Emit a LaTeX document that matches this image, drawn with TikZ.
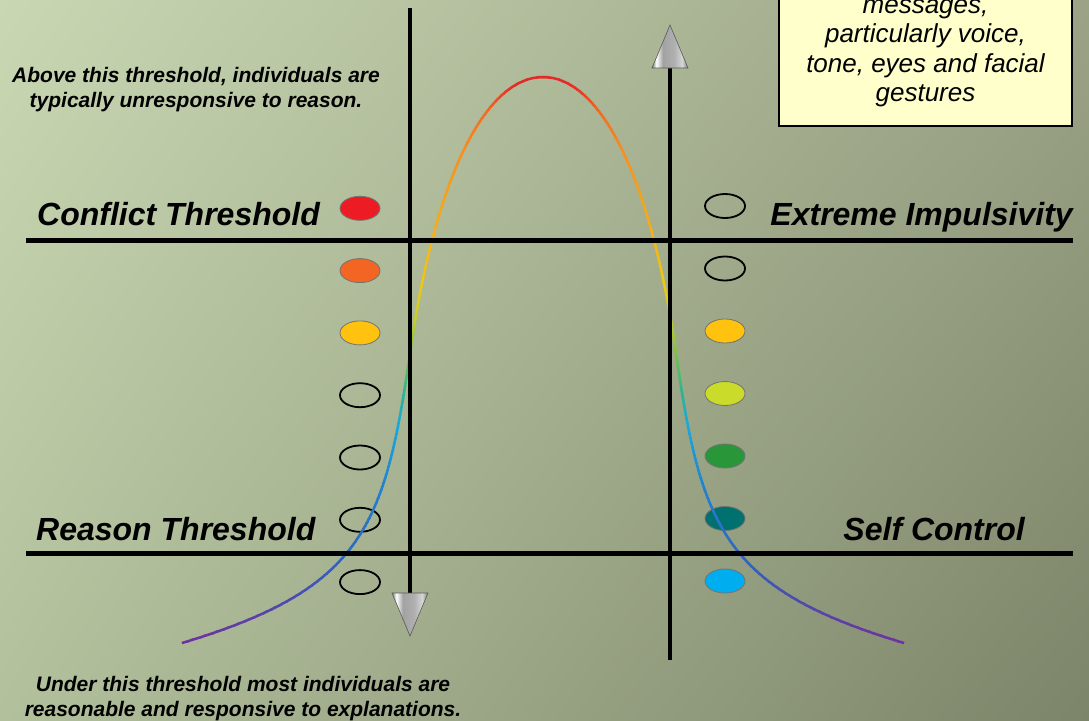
\documentclass[tikz,border=0pt]{standalone}
\usepackage{fontspec}
\setmainfont{Liberation Sans}
\usetikzlibrary{shapes.geometric,calc,shadings}
\definecolor{bgtl}{HTML}{C9D7B3}
\definecolor{bgtr}{HTML}{9AA385}
\definecolor{bgbl}{HTML}{B2C09C}
\definecolor{bgbr}{HTML}{7C8469}
\definecolor{noteyellow}{HTML}{FFFFCC}
\definecolor{lampred}{HTML}{ED1C24}
\definecolor{lamporange}{HTML}{F26522}
\definecolor{lampyellow}{HTML}{FFC20E}
\definecolor{lamplime}{HTML}{CBDB2A}
\definecolor{lampgreen}{HTML}{2A963A}
\definecolor{lampteal}{HTML}{00716F}
\definecolor{lampcyan}{HTML}{00AEEF}
\definecolor{bellred}{HTML}{E42A28}
\definecolor{bellember}{HTML}{F06A24}
\definecolor{bellorange}{HTML}{F58F22}
\definecolor{bellamber}{HTML}{F3B41A}
\definecolor{bellyellow}{HTML}{EBC818}
\definecolor{belllime}{HTML}{C4CE2C}
\definecolor{bellgreen}{HTML}{7CC143}
\definecolor{bellteal}{HTML}{2EB58C}
\definecolor{bellcyan}{HTML}{1BA7DA}
\definecolor{bellsky}{HTML}{2280CC}
\definecolor{bellblue}{HTML}{3065BE}
\definecolor{bellviolet}{HTML}{5446A8}
\definecolor{bellpurple}{HTML}{7030A0}
\definecolor{conedark}{HTML}{7A7A7A}
\definecolor{conemid}{HTML}{A2A2A2}
\definecolor{conelight}{HTML}{D6D6D6}
\pgfdeclarehorizontalshading{conegray}{100bp}{color(0bp)=(conedark); color(25bp)=(conedark); color(31bp)=(white); color(40bp)=(conemid); color(56bp)=(conemid!85!white); color(67bp)=(conelight); color(75bp)=(conedark); color(100bp)=(conedark)}
% colour of the bell curve, picked by height
\newcommand\bellmix[4]{\pgfmathtruncatemacro\bellpct{max(0,min(100,(\belly-#3)/(#4-#3)*100))}\colorlet{bellseg}{#2!\bellpct!#1}}
\newcommand\bellcolour[1]{%
  \pgfmathsetmacro\belly{#1}%
  \ifdim\belly pt<110pt\bellmix{bellred}{bellember}{85}{110}%
  \else\ifdim\belly pt<150pt\bellmix{bellember}{bellorange}{110}{150}%
  \else\ifdim\belly pt<240pt\bellmix{bellorange}{bellamber}{150}{240}%
  \else\ifdim\belly pt<285pt\bellmix{bellamber}{bellyellow}{240}{285}%
  \else\ifdim\belly pt<320pt\bellmix{bellyellow}{belllime}{285}{320}%
  \else\ifdim\belly pt<353pt\bellmix{belllime}{bellgreen}{320}{353}%
  \else\ifdim\belly pt<390pt\bellmix{bellgreen}{bellteal}{353}{390}%
  \else\ifdim\belly pt<425pt\bellmix{bellteal}{bellcyan}{390}{425}%
  \else\ifdim\belly pt<490pt\bellmix{bellcyan}{bellsky}{425}{490}%
  \else\ifdim\belly pt<560pt\bellmix{bellsky}{bellblue}{490}{560}%
  \else\ifdim\belly pt<610pt\bellmix{bellblue}{bellviolet}{560}{610}%
  \else\bellmix{bellviolet}{bellpurple}{610}{645}%
  \fi\fi\fi\fi\fi\fi\fi\fi\fi\fi\fi}

\begin{document}
\begin{tikzpicture}[x=1pt,y=-1pt]
    \tikzstyle{tag}=[inner sep=0pt,font=\fontsize{32}{38}\selectfont\bfseries\itshape]
    \tikzstyle{remark}=[inner sep=0pt,align=center,font=\fontsize{21}{25.5}\selectfont\bfseries\itshape]
    \tikzstyle{lamp}=[ellipse,minimum width=40pt,minimum height=24pt,inner sep=0pt]
    \tikzstyle{lit}=[lamp,draw=black!55,line width=0.8pt]
    \tikzstyle{unlit}=[lamp,draw=black,line width=1.8pt]
    \tikzstyle{threshline}=[line width=5pt]
    \tikzstyle{axisline}=[line width=4pt]
    \tikzstyle{cone}=[shading=conegray,draw=black!65,line width=0.6pt]
    \tikzstyle{notebox}=[draw,line width=2pt,fill=noteyellow,minimum width=293pt,minimum height=146pt,align=center,font=\fontsize{26}{29.5}\selectfont\itshape]
    \clip (0,0) rectangle (1089,720);
    \shade[upper left=bgtl,upper right=bgtr,lower left=bgbl,lower right=bgbr] (0,0) rectangle (1089,720);
    % lamps, left and right
    \foreach \kind/\col [count=\i] in {lit/lampred,lit/lamporange,lit/lampyellow,unlit/none,unlit/none,unlit/none,unlit/none}
        \node[\kind,fill=\col] (l\i) at (360,{146+62.3*\i}) {};
    \foreach \kind/\col [count=\i] in {unlit/none,unlit/none,lit/lampyellow,lit/lamplime,lit/lampgreen,lit/lampteal,lit/lampcyan}
        \node[\kind,fill=\col] (r\i) at (725,{143.5+62.5*\i}) {};
    % bell curve, one band of height at a time
    \foreach \k in {0,...,144} {
        \pgfmathsetmacro\ya{74+4*\k}
        \bellcolour{\ya+2}
        \begin{scope}
            \clip (0,\ya) rectangle (1089,\ya+4.4);
            \draw[bellseg,line width=2.5pt] (182,643) .. controls (362,589) and (385,528) .. (410,353)
                .. controls (437,164) and (490,77) .. (543,77)
                .. controls (596,77) and (649,164) .. (676,353)
                .. controls (701,528) and (724,589) .. (904,643);
        \end{scope}
    }
    % thresholds and axes
    \coordinate (ct-w) at (26,240);
    \coordinate (ct-e) at (1073,240);
    \coordinate (rt-w) at (26,553);
    \coordinate (rt-e) at (1073,553);
    \coordinate (down-top) at (410,8);
    \coordinate (down-tip) at (410,636);
    \coordinate (up-foot) at (670,660);
    \coordinate (up-tip) at (670,25);
    \draw[threshline] (ct-w) -- (ct-e);
    \draw[threshline] (rt-w) -- (rt-e);
    \draw[axisline] (down-top) -- ($(down-tip)+(0,-43)$);
    \draw[axisline] (up-foot) -- ($(up-tip)+(0,43)$);
    \shade[cone] ($(down-tip)+(-18,-43)$) -- ($(down-tip)+(18,-43)$) -- (down-tip) -- cycle;
    \shade[cone] ($(up-tip)+(-18,43)$) -- ($(up-tip)+(18,43)$) -- (up-tip) -- cycle;
    % labels
    \node[tag,anchor=base west] (conflict) at (37,225) {Conflict Threshold};
    \node[tag,anchor=base east] (impulse) at (1073,225) {Extreme Impulsivity};
    \node[tag,anchor=base west] (reason) at (36,540) {Reason Threshold};
    \node[tag,anchor=base east] (control) at (1025,540) {Self Control};
    \node[remark] (above) at (196,89.5) {Above this threshold, individuals are\\typically unresponsive to reason.};
    \node[remark] (under) at (243,698.5) {Under this threshold most individuals are\\reasonable and responsive to explanations.};
    \node[notebox] (note) at (925.5,53) {messages,\\particularly voice,\\tone, eyes and facial\\gestures};
\end{tikzpicture}
\end{document}
